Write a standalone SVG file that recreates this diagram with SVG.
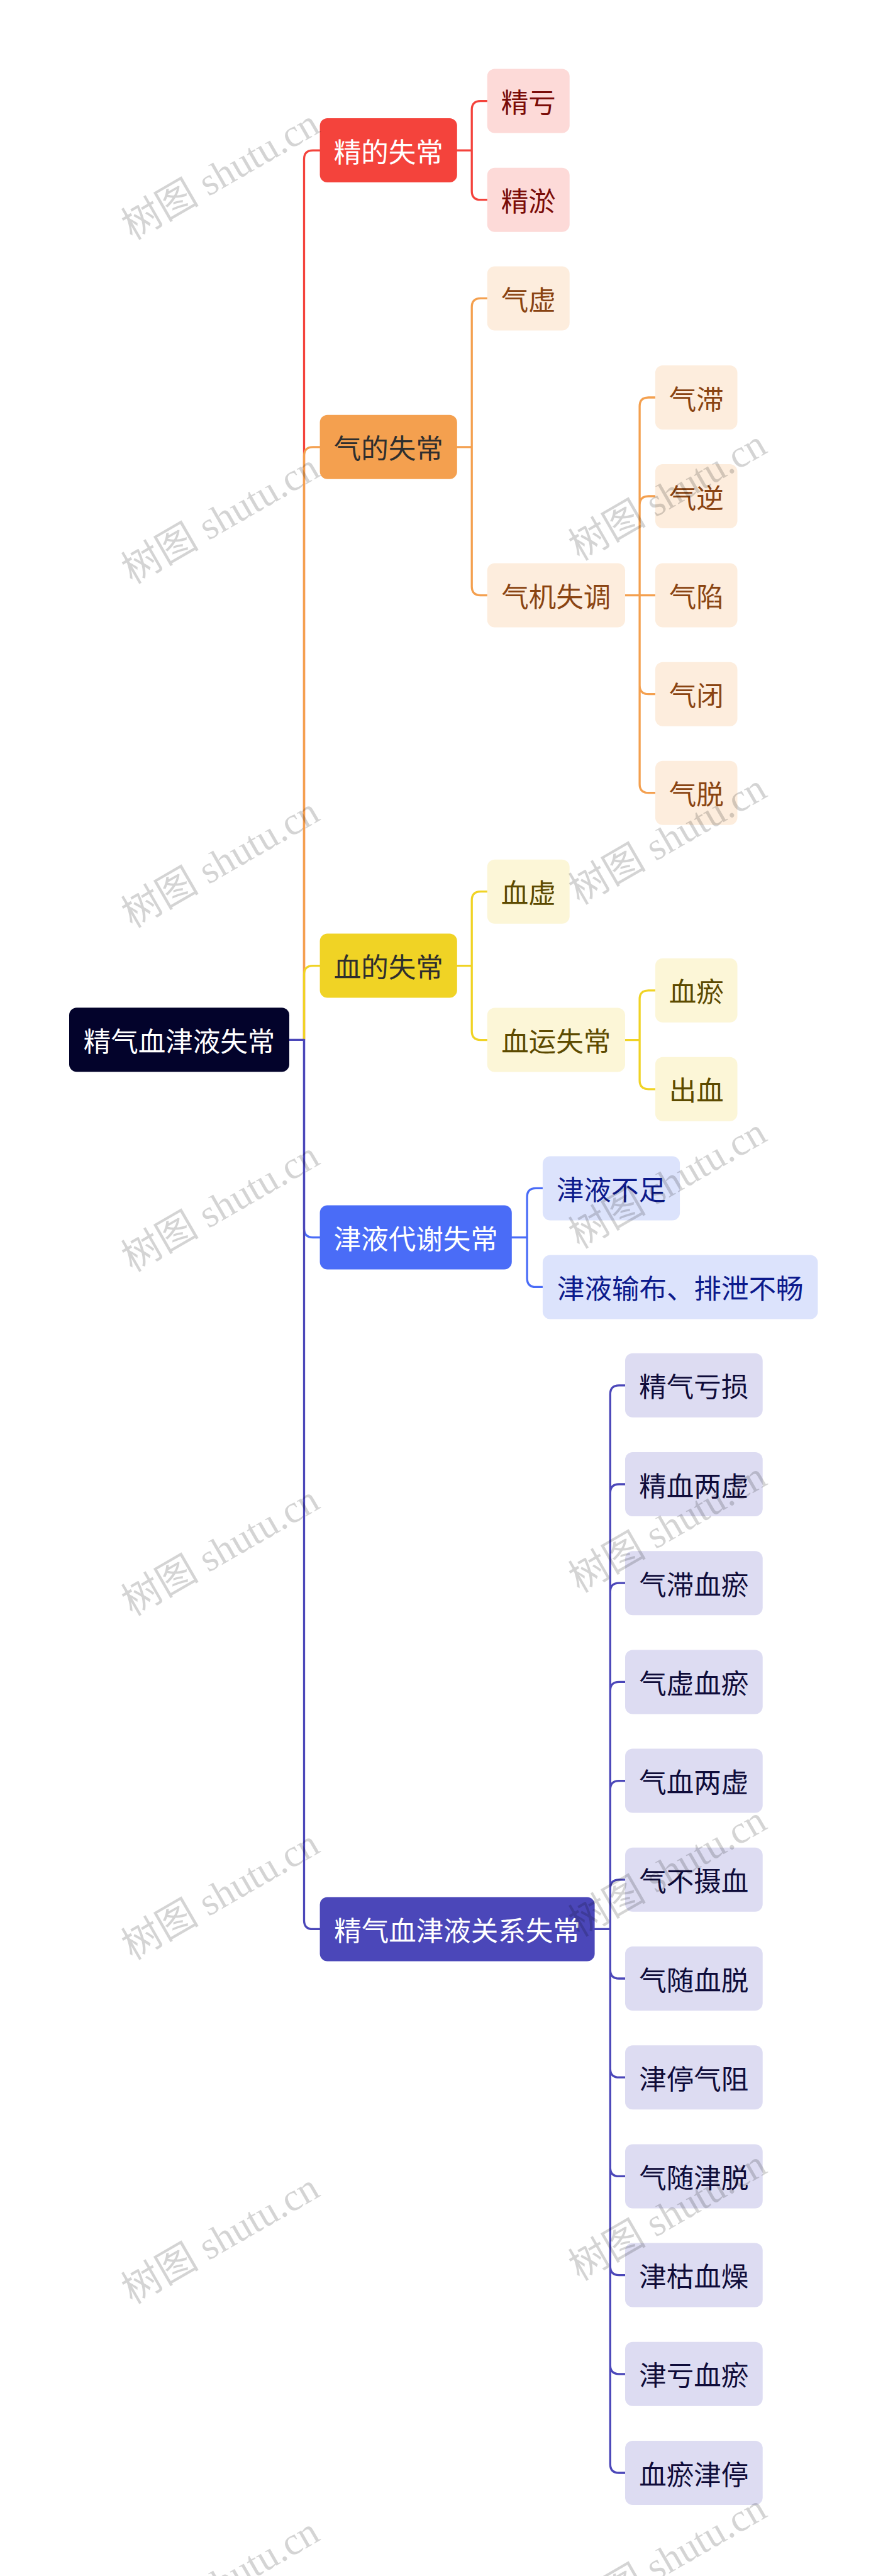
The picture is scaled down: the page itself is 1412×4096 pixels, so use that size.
<svg xmlns="http://www.w3.org/2000/svg" width="1412" height="4096" viewBox="0 0 1412 4096">
<style>
.t { font-family: "Noto Sans CJK SC", "Noto Sans", sans-serif; font-size: 43.5px; text-anchor: middle; dominant-baseline: central; }
.c { fill: none; stroke-width: 3.3; stroke-linecap: round; stroke-linejoin: round; }
.cr { stroke: #f4433c; } .co { stroke: #f4a04f; } .cy { stroke: #f0d325; } .cb { stroke: #4a6cf7; } .cp { stroke: #4b47b9; }
.l1r { fill: #f4433c; } .l1o { fill: #f4a04f; } .l1y { fill: #f0d325; } .l1b { fill: #4a6cf7; } .l1p { fill: #4b47b9; }
.l2r { fill: #fddad8; } .l2o { fill: #fdeddd; } .l2y { fill: #fcf6d7; } .l2b { fill: #dce3fc; } .l2p { fill: #dddcf2; }
.tw { fill: #ffffff; } .td { fill: #2e2e2e; }
.tr { fill: #7a0c08; } .to { fill: #8a4412; } .ty { fill: #5c4a00; } .tb { fill: #0c1a8c; } .tp { fill: #0f0c3a; }
.wm { font-family: "Liberation Serif", "Noto Sans CJK SC", serif; font-size: 62px; fill: #000; fill-opacity: 0.17; text-anchor: middle; }
</style>

<g id="connectors">
  <path class="c cr" d="M483.5 1653.3 V253.1 Q483.5 239.1 497.5 239.1 H508.6"/>
  <path class="c co" d="M483.5 1653.3 V724.8 Q483.5 710.8 497.5 710.8 H508.6"/>
  <path class="c cy" d="M483.5 1653.3 V1549.6 Q483.5 1535.6 497.5 1535.6 H508.6"/>
  <path class="c cb" d="M483.5 1653.3 V1953.6 Q483.5 1967.6 497.5 1967.6 H508.6"/>
  <path class="c cp" d="M483.5 1653.3 V3053.4 Q483.5 3067.4 497.5 3067.4 H508.6"/>
  <path class="c cp" d="M460 1653.3 H483.5"/>

  <path class="c cr" d="M726.8 239.1 H750.2 M750.2 239.1 V174.6 Q750.2 160.6 764.2 160.6 H774.7 M750.2 239.1 V303.7 Q750.2 317.7 764.2 317.7 H774.7"/>
  <path class="c co" d="M726.8 710.8 H750.2 M750.2 710.8 V488.4 Q750.2 474.4 764.2 474.4 H774.7 M750.2 710.8 V932.6 Q750.2 946.6 764.2 946.6 H774.7"/>
  <path class="c co" d="M994 946.6 H1041.9 M1017.1 946.6 V646 Q1017.1 632 1031.1 632 H1041.9 M1017.1 946.6 V803 Q1017.1 789 1031.1 789 H1041.9 M1017.1 946.6 V1089.7 Q1017.1 1103.7 1031.1 1103.7 H1041.9 M1017.1 946.6 V1246.7 Q1017.1 1260.7 1031.1 1260.7 H1041.9"/>
  <path class="c cy" d="M726.8 1535.6 H750.2 M750.2 1535.6 V1431.7 Q750.2 1417.7 764.2 1417.7 H774.7 M750.2 1535.6 V1639.6 Q750.2 1653.6 764.2 1653.6 H774.7"/>
  <path class="c cy" d="M994 1653.6 H1017.1 M1017.1 1653.6 V1588.8 Q1017.1 1574.8 1031.1 1574.8 H1041.9 M1017.1 1653.6 V1717.8 Q1017.1 1731.8 1031.1 1731.8 H1041.9"/>
  <path class="c cb" d="M813.8 1967.6 H838.1 M838.1 1967.6 V1903.4 Q838.1 1889.4 852.1 1889.4 H862.9 M838.1 1967.6 V2032.4 Q838.1 2046.4 852.1 2046.4 H862.9"/>
  <path class="c cp" d="M945.5 3067.4 H970.3
    M970.3 3067.4 V2216.8 Q970.3 2202.8 984.3 2202.8 H994
    M970.3 3067.4 V2374 Q970.3 2360 984.3 2360 H994
    M970.3 3067.4 V2531.2 Q970.3 2517.2 984.3 2517.2 H994
    M970.3 3067.4 V2688.4 Q970.3 2674.4 984.3 2674.4 H994
    M970.3 3067.4 V2845.6 Q970.3 2831.6 984.3 2831.6 H994
    M970.3 3067.4 V3002.8 Q970.3 2988.8 984.3 2988.8 H994
    M970.3 3067.4 V3132 Q970.3 3146 984.3 3146 H994
    M970.3 3067.4 V3289.2 Q970.3 3303.2 984.3 3303.2 H994
    M970.3 3067.4 V3446.4 Q970.3 3460.4 984.3 3460.4 H994
    M970.3 3067.4 V3603.6 Q970.3 3617.6 984.3 3617.6 H994
    M970.3 3067.4 V3760.8 Q970.3 3774.8 984.3 3774.8 H994
    M970.3 3067.4 V3918 Q970.3 3932 984.3 3932 H994"/>
</g>

<g id="root"><rect x="110" y="1602.3" width="350" height="102" rx="12" fill="#03032b"/><text class="t tw" x="285" y="1653.3">精气血津液失常</text></g>

<g id="n-jing"><rect class="l1r" x="508.6" y="188.1" width="218.2" height="102" rx="12"/><text class="t tw" x="617.7" y="239.1">精的失常</text></g>
<g id="n-qi"><rect class="l1o" x="508.6" y="659.8" width="218.2" height="102" rx="12"/><text class="t td" x="617.7" y="710.8">气的失常</text></g>
<g id="n-xue"><rect class="l1y" x="508.6" y="1484.6" width="218.2" height="102" rx="12"/><text class="t td" x="617.7" y="1535.6">血的失常</text></g>
<g id="n-jinye"><rect class="l1b" x="508.6" y="1916.6" width="305.2" height="102" rx="12"/><text class="t tw" x="661.2" y="1967.6">津液代谢失常</text></g>
<g id="n-guanxi"><rect class="l1p" x="508.6" y="3016.4" width="437" height="102" rx="12"/><text class="t tw" x="727.1" y="3067.4">精气血津液关系失常</text></g>

<g id="n-jingkui"><rect class="l2r" x="774.7" y="109.6" width="131" height="102" rx="12"/><text class="t tr" x="840.2" y="160.6">精亏</text></g>
<g id="n-jingyu"><rect class="l2r" x="774.7" y="266.7" width="131" height="102" rx="12"/><text class="t tr" x="840.2" y="317.7">精淤</text></g>
<g id="n-qixu"><rect class="l2o" x="774.7" y="423.4" width="131" height="102" rx="12"/><text class="t to" x="840.2" y="474.4">气虚</text></g>
<g id="n-qiji"><rect class="l2o" x="774.7" y="895.6" width="219.3" height="102" rx="12"/><text class="t to" x="884.35" y="946.6">气机失调</text></g>
<g id="n-qizhi"><rect class="l2o" x="1041.9" y="581" width="130.6" height="102" rx="12"/><text class="t to" x="1107.2" y="632">气滞</text></g>
<g id="n-qini"><rect class="l2o" x="1041.9" y="738" width="130.6" height="102" rx="12"/><text class="t to" x="1107.2" y="789">气逆</text></g>
<g id="n-qixian"><rect class="l2o" x="1041.9" y="895.6" width="130.6" height="102" rx="12"/><text class="t to" x="1107.2" y="946.6">气陷</text></g>
<g id="n-qibi"><rect class="l2o" x="1041.9" y="1052.7" width="130.6" height="102" rx="12"/><text class="t to" x="1107.2" y="1103.7">气闭</text></g>
<g id="n-qituo"><rect class="l2o" x="1041.9" y="1209.7" width="130.6" height="102" rx="12"/><text class="t to" x="1107.2" y="1260.7">气脱</text></g>
<g id="n-xuexu"><rect class="l2y" x="774.7" y="1366.7" width="131" height="102" rx="12"/><text class="t ty" x="840.2" y="1417.7">血虚</text></g>
<g id="n-xueyun"><rect class="l2y" x="774.7" y="1602.6" width="219.3" height="102" rx="12"/><text class="t ty" x="884.35" y="1653.6">血运失常</text></g>
<g id="n-xueyu"><rect class="l2y" x="1041.9" y="1523.8" width="130.6" height="102" rx="12"/><text class="t ty" x="1107.2" y="1574.8">血瘀</text></g>
<g id="n-chuxue"><rect class="l2y" x="1041.9" y="1680.8" width="130.6" height="102" rx="12"/><text class="t ty" x="1107.2" y="1731.8">出血</text></g>
<g id="n-jybz"><rect class="l2b" x="862.9" y="1838.4" width="218.2" height="102" rx="12"/><text class="t tb" x="972" y="1889.4">津液不足</text></g>
<g id="n-jysb"><rect class="l2b" x="862.9" y="1995.4" width="437.5" height="102" rx="12"/><text class="t tb" x="1081.65" y="2046.4">津液输布、排泄不畅</text></g>

<g id="n-r1"><rect class="l2p" x="994" y="2151.8" width="218.7" height="102" rx="12"/><text class="t tp" x="1103.35" y="2202.8">精气亏损</text></g>
<g id="n-r2"><rect class="l2p" x="994" y="2309" width="218.7" height="102" rx="12"/><text class="t tp" x="1103.35" y="2360">精血两虚</text></g>
<g id="n-r3"><rect class="l2p" x="994" y="2466.2" width="218.7" height="102" rx="12"/><text class="t tp" x="1103.35" y="2517.2">气滞血瘀</text></g>
<g id="n-r4"><rect class="l2p" x="994" y="2623.4" width="218.7" height="102" rx="12"/><text class="t tp" x="1103.35" y="2674.4">气虚血瘀</text></g>
<g id="n-r5"><rect class="l2p" x="994" y="2780.6" width="218.7" height="102" rx="12"/><text class="t tp" x="1103.35" y="2831.6">气血两虚</text></g>
<g id="n-r6"><rect class="l2p" x="994" y="2937.8" width="218.7" height="102" rx="12"/><text class="t tp" x="1103.35" y="2988.8">气不摄血</text></g>
<g id="n-r7"><rect class="l2p" x="994" y="3095" width="218.7" height="102" rx="12"/><text class="t tp" x="1103.35" y="3146">气随血脱</text></g>
<g id="n-r8"><rect class="l2p" x="994" y="3252.2" width="218.7" height="102" rx="12"/><text class="t tp" x="1103.35" y="3303.2">津停气阻</text></g>
<g id="n-r9"><rect class="l2p" x="994" y="3409.4" width="218.7" height="102" rx="12"/><text class="t tp" x="1103.35" y="3460.4">气随津脱</text></g>
<g id="n-r10"><rect class="l2p" x="994" y="3566.6" width="218.7" height="102" rx="12"/><text class="t tp" x="1103.35" y="3617.6">津枯血燥</text></g>
<g id="n-r11"><rect class="l2p" x="994" y="3723.8" width="218.7" height="102" rx="12"/><text class="t tp" x="1103.35" y="3774.8">津亏血瘀</text></g>
<g id="n-r12"><rect class="l2p" x="994" y="3881" width="218.7" height="102" rx="12"/><text class="t tp" x="1103.35" y="3932">血瘀津停</text></g>

<g id="watermarks">
  <text class="wm" x="361" y="295.6" transform="rotate(-30 361 295.6)">树图 shutu.cn</text>
  <text class="wm" x="361" y="842.6" transform="rotate(-30 361 842.6)">树图 shutu.cn</text>
  <text class="wm" x="361" y="1389.6" transform="rotate(-30 361 1389.6)">树图 shutu.cn</text>
  <text class="wm" x="361" y="1936.6" transform="rotate(-30 361 1936.6)">树图 shutu.cn</text>
  <text class="wm" x="361" y="2483.6" transform="rotate(-30 361 2483.6)">树图 shutu.cn</text>
  <text class="wm" x="361" y="3030.6" transform="rotate(-30 361 3030.6)">树图 shutu.cn</text>
  <text class="wm" x="361" y="3577.6" transform="rotate(-30 361 3577.6)">树图 shutu.cn</text>
  <text class="wm" x="361" y="4124.6" transform="rotate(-30 361 4124.6)">树图 shutu.cn</text>
  <text class="wm" x="1072" y="805.5" transform="rotate(-30 1072 805.5)">树图 shutu.cn</text>
  <text class="wm" x="1072" y="1352.5" transform="rotate(-30 1072 1352.5)">树图 shutu.cn</text>
  <text class="wm" x="1072" y="1899.5" transform="rotate(-30 1072 1899.5)">树图 shutu.cn</text>
  <text class="wm" x="1072" y="2446.5" transform="rotate(-30 1072 2446.5)">树图 shutu.cn</text>
  <text class="wm" x="1072" y="2993.5" transform="rotate(-30 1072 2993.5)">树图 shutu.cn</text>
  <text class="wm" x="1072" y="3540.5" transform="rotate(-30 1072 3540.5)">树图 shutu.cn</text>
  <text class="wm" x="1072" y="4087.5" transform="rotate(-30 1072 4087.5)">树图 shutu.cn</text>
</g>
</svg>
